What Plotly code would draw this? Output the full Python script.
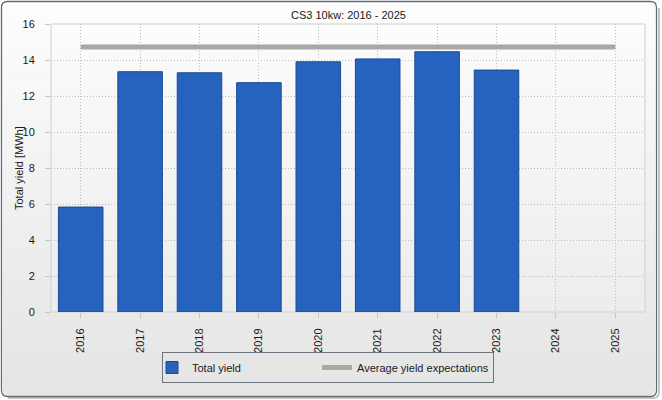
import plotly.graph_objects as go

years = ["2016", "2017", "2018", "2019", "2020", "2021", "2022", "2023", "2024", "2025"]
total_yield = [5.83, 13.35, 13.29, 12.74, 13.90, 14.06, 14.46, 13.44, None, None]
expectation = [14.72] * len(years)
y_ticks = [0, 2, 4, 6, 8, 10, 12, 14, 16]

W, H = 662, 400
L, R, T, B = 51, 645, 24, 312

def px(x):
    return (x - L) / (R - L)

def py(y):
    return (B - y) / (B - T)

fig = go.Figure()
fig.add_trace(go.Bar(
    x=years, y=total_yield, name="Total yield", width=0.75,
    marker=dict(color="#2563be", line=dict(color="#1c4a92", width=1)),
))
fig.add_trace(go.Scatter(
    x=years, y=expectation, name="Average yield expectations", mode="lines",
    line=dict(color="#a8a8a8", width=5),
))

shapes = []
# outer gradient background
n = 40
top, bot = 4, 395
for i in range(n):
    y0 = top + (bot - top) * i / n
    y1 = top + (bot - top) * (i + 1) / n + 0.6
    c = int(253 - (253 - 229) * i / (n - 1))
    shapes.append(dict(type="rect", xref="paper", yref="paper", layer="below",
                       x0=px(3), x1=px(655), y0=py(y0), y1=py(y1),
                       fillcolor=f"rgb({c},{c},{c})", line=dict(width=0)))
# plot area gradient
m = 30
for i in range(m):
    y0 = T + (B - T) * i / m
    y1 = T + (B - T) * (i + 1) / m + 0.6
    c = int(252 - (252 - 237) * i / (m - 1))
    shapes.append(dict(type="rect", xref="paper", yref="paper", layer="below",
                       x0=0, x1=1, y0=py(y0), y1=py(y1),
                       fillcolor=f"rgb({c},{c},{c})", line=dict(width=0)))
# shadow
shapes.append(dict(type="path", xref="paper", yref="paper", layer="below",
                   path=f"M {px(8)},{py(398)} L {px(653)},{py(398)} Q {px(659)},{py(398)} {px(659)},{py(392)} L {px(659)},{py(8)}",
                   line=dict(color="#c4c4c4", width=2)))
# frame with rounded corners
r = 6
x0f, x1f, y0f, y1f = 1.5, 656.5, 1.5, 396.5
path = (f"M {px(x0f + r)},{py(y0f)} L {px(x1f - r)},{py(y0f)} "
        f"Q {px(x1f)},{py(y0f)} {px(x1f)},{py(y0f + r)} "
        f"L {px(x1f)},{py(y1f - r)} Q {px(x1f)},{py(y1f)} {px(x1f - r)},{py(y1f)} "
        f"L {px(x0f + r)},{py(y1f)} Q {px(x0f)},{py(y1f)} {px(x0f)},{py(y1f - r)} "
        f"L {px(x0f)},{py(y0f + r)} Q {px(x0f)},{py(y0f)} {px(x0f + r)},{py(y0f)} Z")
shapes.append(dict(type="path", xref="paper", yref="paper", layer="above",
                   path=path, line=dict(color="#5d6973", width=1.3)))
# plot frame
shapes.append(dict(type="rect", xref="paper", yref="paper", layer="below",
                   x0=0, x1=1, y0=0, y1=1, line=dict(color="#cfcfcf", width=1)))

font = "Liberation Sans, Arial, sans-serif"
fig.update_layout(
    width=W, height=H,
    margin=dict(l=L, r=W - R, t=T, b=H - B, pad=0, autoexpand=False),
    paper_bgcolor="white", plot_bgcolor="rgba(0,0,0,0)",
    font=dict(family=font, size=11, color="#1a1a1a"),
    shapes=shapes,
    showlegend=True,
    legend=dict(orientation="h", x=px(162), y=py(352), xanchor="left", yanchor="top",
                bgcolor="rgba(0,0,0,0)", bordercolor="#6a7580", borderwidth=1,
                entrywidth=131, entrywidthmode="pixels", indentation=-11,
                font=dict(family=font, size=11, color="#1a1a1a"),
                itemclick=False),
    annotations=[
        dict(text="CS3 10kw: 2016 - 2025", xref="paper", yref="paper", x=0.5, y=py(15),
             xanchor="center", yanchor="middle", showarrow=False,
             font=dict(family=font, size=11, color="#1a1a1a")),
        dict(text="Total yield [MWh]", xref="paper", yref="paper", x=px(19), y=0.5,
             xanchor="center", yanchor="middle", textangle=-90, showarrow=False,
             font=dict(family=font, size=11, color="#1a1a1a")),
    ],
    bargap=0.25,
)
fig.update_xaxes(
    type="category", categoryorder="array", categoryarray=years,
    range=[-0.5, 9.5], tickangle=-90,
    showgrid=True, gridcolor="#bdbdbd", griddash="1px,2px", gridwidth=1,
    ticks="outside", ticklen=5, tickcolor="#c6c6c6",
    showline=False, zeroline=False, ticklabelstandoff=6,
)
fig.update_yaxes(
    range=[0, 16], tickvals=y_ticks, ticktext=[str(v) for v in y_ticks],
    showgrid=True, gridcolor="#bdbdbd", griddash="1px,2px", gridwidth=1,
    ticks="outside", ticklen=5, tickcolor="#c6c6c6",
    showline=False, zeroline=False, ticklabelstandoff=8,
)
fig.write_html("out.html", config={"displayModeBar": False},
               post_script="document.body.style.margin='0';document.body.style.overflow='hidden';")
